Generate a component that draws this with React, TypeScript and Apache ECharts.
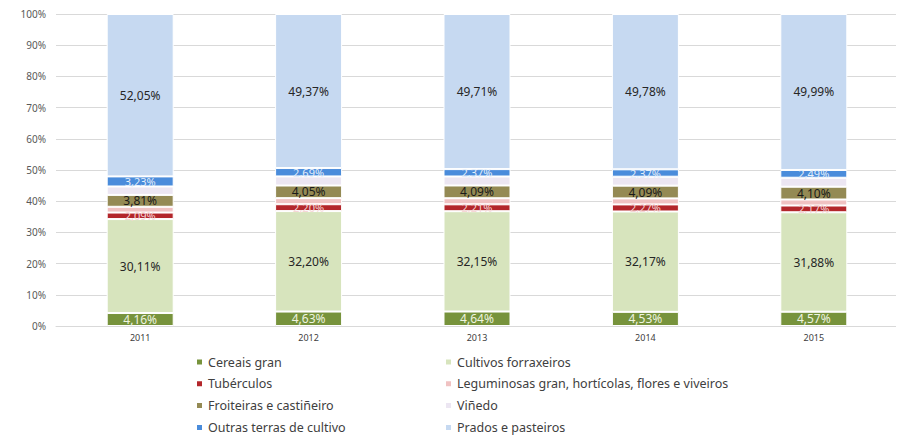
import React, { useEffect, useRef } from "react";
import * as echarts from "echarts";

const years = ["2011", "2012", "2013", "2014", "2015"];
const cereais = [4.16, 4.63, 4.64, 4.53, 4.57];
const cultivos = [30.11, 32.2, 32.15, 32.17, 31.88];
const tuberculos = [2.09, 2.2, 2.21, 2.27, 2.17];
const leguminosas = [1.85, 1.95, 1.95, 1.93, 1.92];
const froiteiras = [3.81, 4.05, 4.09, 4.09, 4.1];
const vinedo = [2.7, 2.91, 2.88, 2.86, 2.88];
const outras = [3.23, 2.69, 2.37, 2.37, 2.49];
const prados = [52.05, 49.37, 49.71, 49.78, 49.99];

const seriesDefs = [
  { name: "Cereais gran", data: cereais, color: "#77933C", label: true, labelColor: "#EEF4E0", size: 12 },
  { name: "Cultivos forraxeiros", data: cultivos, color: "#D7E4BD", label: true, labelColor: "#262626", size: 12 },
  { name: "Tubérculos", data: tuberculos, color: "#B3262B", label: true, labelColor: "#F6D6D6", size: 11 },
  { name: "Leguminosas gran, hortícolas, flores e viveiros", data: leguminosas, color: "#F0C2C2", label: false, labelColor: "#262626", size: 11 },
  { name: "Froiteiras e castiñeiro", data: froiteiras, color: "#948A54", label: true, labelColor: "#1A1A1A", size: 12 },
  { name: "Viñedo", data: vinedo, color: "#ECE6F2", label: false, labelColor: "#262626", size: 11 },
  { name: "Outras terras de cultivo", data: outras, color: "#4A8CDB", label: true, labelColor: "#E4EEFA", size: 11 },
  { name: "Prados e pasteiros", data: prados, color: "#C6D9F1", label: true, labelColor: "#262626", size: 12 },
];

const FONT = "'Noto Sans', 'Open Sans', sans-serif";

export default function App() {
  const ref = useRef<HTMLDivElement>(null);
  useEffect(() => {
    if (!ref.current) return;
    const chart = echarts.init(ref.current, undefined, { renderer: "svg" });
    const legendText = { fontFamily: FONT, fontSize: 12.5, color: "#404040", lineHeight: 14 };
    const legendBase = {
      orient: "vertical",
      top: 347,
      height: 90,
      itemWidth: 7,
      itemHeight: 7,
      itemGap: 7.8,
      icon: "rect",
      padding: 0,
      textStyle: legendText,
    };
    chart.setOption({
      animation: false,
      backgroundColor: "#ffffff",
      grid: { left: 48, right: 6, top: 6, bottom: 116, containLabel: false },
      legend: [
        {
          ...legendBase,
          left: 187,
          data: [seriesDefs[0].name, seriesDefs[2].name, seriesDefs[4].name, seriesDefs[6].name],
        },
        {
          ...legendBase,
          left: 436,
          data: [seriesDefs[1].name, seriesDefs[3].name, seriesDefs[5].name, seriesDefs[7].name],
        },
      ],
      xAxis: {
        type: "category",
        data: years,
        axisLine: { lineStyle: { color: "#D9D9D9" } },
        axisTick: { show: false },
        axisLabel: { fontFamily: FONT, fontSize: 9, color: "#404040", margin: 7 },
      },
      yAxis: {
        type: "value",
        min: 0,
        max: 100,
        interval: 10,
        axisLine: { show: false },
        axisTick: { show: false },
        splitLine: { lineStyle: { color: "#D9D9D9" } },
        axisLabel: { fontFamily: FONT, fontSize: 10, color: "#595959", formatter: "{value}%", margin: 10 },
      },
      series: seriesDefs.map((s) => ({
        name: s.name,
        type: "bar",
        stack: "total",
        barWidth: 67,
        data: s.data,
        itemStyle: { color: s.color, borderColor: "#ffffff", borderWidth: 1 },
        label: {
          show: s.label,
          position: "inside",
          fontFamily: FONT,
          fontSize: s.size,
          lineHeight: s.size === 12 ? 12 : 9,
          color: s.labelColor,
          formatter: (p: any) => p.value.toFixed(2).replace(".", ",") + "%",
        },
      })),
    });
    return () => chart.dispose();
  }, []);
  return <div ref={ref} style={{ width: 896, height: 434 }} />;
}
